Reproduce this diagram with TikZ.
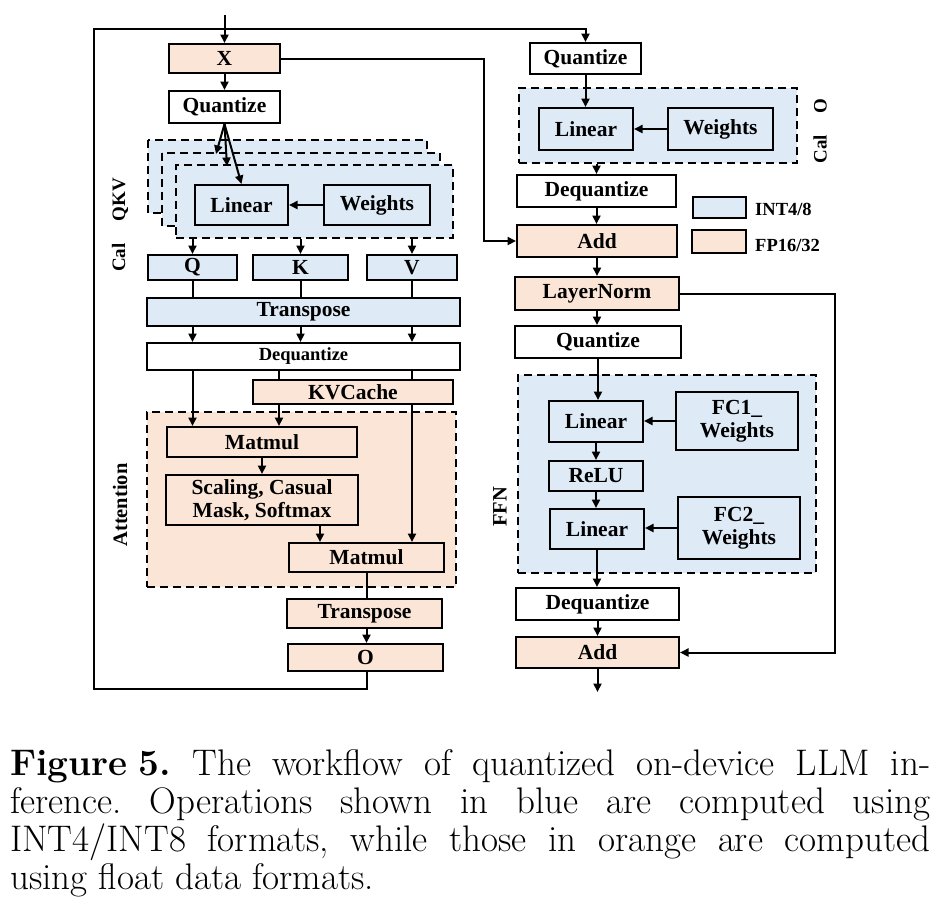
\documentclass[tikz,border=0pt]{standalone}
\usepackage{fontspec}
\newfontfamily\boxfont{Liberation Serif}
\usetikzlibrary{arrows.meta}
\definecolor{intfill}{HTML}{DEEBF7}
\definecolor{fpfill}{HTML}{FBE5D6}
\begin{document}
\begin{tikzpicture}[x=1pt,y=-1pt,
  box/.style={draw,line width=2pt,inner sep=0pt,align=center,font=\boxfont\bfseries\fontsize{21.5}{23}\selectfont},
  intbox/.style={box,fill=intfill},
  fpbox/.style={box,fill=fpfill},
  plainbox/.style={box,fill=white},
  grp/.style={draw,line width=2pt,dash pattern=on 8pt off 5pt,inner sep=0pt},
  lbl/.style={font=\boxfont\bfseries\fontsize{20.5}{22}\selectfont,inner sep=0pt},
  arr/.style={line width=2pt,-{Triangle[length=8.5pt,width=8pt]}},
  conn/.style={line width=2pt},
  capline/.style={font=\fontsize{37}{38}\selectfont\frenchspacing,inner sep=0pt,anchor=base west}]
\useasboundingbox (0,0) rectangle (942,922);
% groups (drawn first)
\draw[grp,fill=intfill] (148,140) rectangle (427,213);
\draw[grp,fill=intfill] (162,153) rectangle (440,226);
\node[grp,fill=intfill,minimum width=277,minimum height=73] (grpQKV) at (314.5,201.5) {};
\node[grp,fill=fpfill,minimum width=309,minimum height=175] (grpAtt) at (301.5,499.5) {};
\node[grp,fill=intfill,minimum width=278,minimum height=75] (grpO) at (658,125.5) {};
\node[grp,fill=intfill,minimum width=298,minimum height=198] (grpFFN) at (667,474) {};
% left column
\node[fpbox,minimum width=111,minimum height=29] (X) at (224.5,58.5) {X};
\node[plainbox,minimum width=111,minimum height=32] (qL) at (224.5,107) {Quantize};
\node[intbox,minimum width=93,minimum height=40] (linL) at (241.5,205) {Linear};
\node[intbox,minimum width=106,minimum height=40] (wL) at (377,205) {Weights};
\node[intbox,minimum width=89,minimum height=25] (Q) at (192.5,267.5) {Q};
\node[intbox,minimum width=95,minimum height=25] (K) at (300.5,267.5) {K};
\node[intbox,minimum width=90,minimum height=25] (V) at (412,267.5) {V};
\node[intbox,minimum width=313,minimum height=28] (tpA) at (303.5,312) {Transpose};
\node[plainbox,minimum width=313,minimum height=27,font=\boxfont\bfseries\fontsize{18.5}{20}\selectfont] (deqL) at (303.5,356.5) {Dequantize};
\node[fpbox,minimum width=200,minimum height=24] (kv) at (353,392) {KVCache};
\node[fpbox,minimum width=190,minimum height=30] (mm1) at (262,442) {Matmul};
\node[fpbox,minimum width=192,minimum height=50] (scal) at (262,500) {Scaling, Casual\\Mask, Softmax};
\node[fpbox,minimum width=155,minimum height=29] (mm2) at (366.5,557.5) {Matmul};
\node[fpbox,minimum width=155,minimum height=29] (tpB) at (364.5,613.5) {Transpose};
\node[fpbox,minimum width=155,minimum height=27] (oL) at (365.5,657.5) {O};
% right column
\node[plainbox,minimum width=111,minimum height=31] (qR) at (585.5,58.5) {Quantize};
\node[intbox,minimum width=94,minimum height=42] (linR) at (586,129) {Linear};
\node[intbox,minimum width=105,minimum height=42] (wR) at (720.5,129) {Weights};
\node[plainbox,minimum width=159,minimum height=32] (deqR) at (596.5,191) {Dequantize};
\node[fpbox,minimum width=160,minimum height=32] (addA) at (597,241) {Add};
\node[fpbox,minimum width=164,minimum height=33] (ln) at (597,293.5) {LayerNorm};
\node[plainbox,minimum width=166,minimum height=32] (qF) at (598,342) {Quantize};
\node[intbox,minimum width=94,minimum height=41] (lin1) at (596,421.5) {Linear};
\node[intbox,minimum width=122,minimum height=58] (fc1) at (737,421) {FC1\_\\Weights};
\node[intbox,minimum width=94,minimum height=30] (relu) at (596,476) {ReLU};
\node[intbox,minimum width=94,minimum height=40] (lin2) at (597,529) {Linear};
\node[intbox,minimum width=122,minimum height=62] (fc2) at (739,528) {FC2\_\\Weights};
\node[plainbox,minimum width=163,minimum height=32] (deqF) at (597.5,604) {Dequantize};
\node[fpbox,minimum width=163,minimum height=31] (addB) at (597.5,652.5) {Add};
% legend
\node[intbox,minimum width=53,minimum height=21] (legInt) at (719.5,207.5) {};
\node[fpbox,minimum width=54,minimum height=23] (legFp) at (719,241.5) {};
\node[lbl,font=\boxfont\bfseries\fontsize{18.5}{20}\selectfont,anchor=west] (legIntT) at (755,209) {INT4/8};
\node[lbl,font=\boxfont\bfseries\fontsize{18.5}{20}\selectfont,anchor=west] (legFpT) at (755,245) {FP16/32};
% side labels
\node[lbl,rotate=90,font=\boxfont\bfseries\fontsize{19}{20}\selectfont] (lblQKV) at (120,225) {Cal\hspace{22pt}QKV};
\node[lbl,rotate=90] (lblAtt) at (120,505) {Attention};
\node[lbl,rotate=90,font=\boxfont\bfseries\fontsize{19}{20}\selectfont] (lblO) at (820,131) {Cal\hspace{22pt}O};
\node[lbl,rotate=90] (lblFFN) at (500,507) {FFN};
% helper coordinates
\coordinate (in) at (224.5,15);
\coordinate (out) at (597.5,692);
\coordinate (kx) at (279,0);
\coordinate (sx) at (320,0);
\coordinate (xr) at (484,0);
\coordinate (rx) at (835,0);
\coordinate (lb) at (94,689);
\coordinate (lt) at (94,29);
\coordinate (fanA) at (216,154);
\coordinate (fanB) at (227,166);
% left connectors
\draw[arr] (in) -- (X);
\draw[arr] (X) -- (qL);
\draw[arr] (qL.south) -- (fanA);
\draw[arr] (qL.south) -- (fanB);
\draw[arr] (qL.south) -- (linL.north);
\draw[arr] (wL) -- (linL);
\foreach \n in {Q,K,V}{
  \draw[arr] (grpQKV.south -| \n.north) -- (\n.north);
  \draw[conn] (\n.south) -- (\n.south |- tpA.north);
  \draw[arr] (\n.south |- tpA.south) -- (\n.south |- deqL.north);
}
\draw[arr] (Q.south |- deqL.south) -- (Q.south |- mm1.north);
\draw[conn] (deqL.south -| kx) -- (kv.north -| kx);
\draw[arr] (kv.south -| kx) -- (mm1.north -| kx);
\draw[conn] (V.south |- deqL.south) -- (V.south |- kv.north);
\draw[arr] (V.south |- kv.south) -- (V.south |- mm2.north);
\draw[arr] (mm1) -- (scal);
\draw[arr] (scal.south -| sx) -- (mm2.north -| sx);
\draw[conn] (mm2.south) -- (mm2.south |- tpB.north);
\draw[arr] (tpB.south -| mm2.south) -- (oL.north -| mm2.south);
\draw[arr] (oL.south -| mm2.south) |- (lb) -- (lt) -| (qR.north);
\draw[arr] (X.east) -| (xr |- addA.west) -- (addA.west);
% right connectors
\draw[arr] (qR.south) -- (qR.south |- linR.north);
\draw[arr] (wR) -- (linR);
\draw[arr] (grpO.south -| deqR.north) -- (deqR.north);
\foreach \a/\b in {deqR/addA,addA/ln,ln/qF,qF/lin1,lin1/relu,relu/lin2,lin2/deqF,deqF/addB}
  \draw[arr] (\a.south) -- (\a.south |- \b.north);
\draw[arr] (fc1.west) -- (fc1.west -| lin1.east);
\draw[arr] (fc2.west) -- (fc2.west -| lin2.east);
\draw[arr] (addB.south) -- (out);
\draw[arr] (ln.east) -| (rx |- addB.east) -- (addB.east);
% caption
\node[capline] (cap1) at (10,775) {\makebox[920pt][s]{\textbf{Figure\hspace{0.3em}5.} The workflow of quantized on-device LLM in-}};
\node[capline] (cap2) at (10,813) {\makebox[920pt][s]{ference. Operations shown in blue are computed using}};
\node[capline] (cap3) at (10,851) {\makebox[920pt][s]{INT4/INT8 formats, while those in orange are computed}};
\node[capline] (cap4) at (10,889) {using float data formats.};
\end{tikzpicture}
\end{document}
